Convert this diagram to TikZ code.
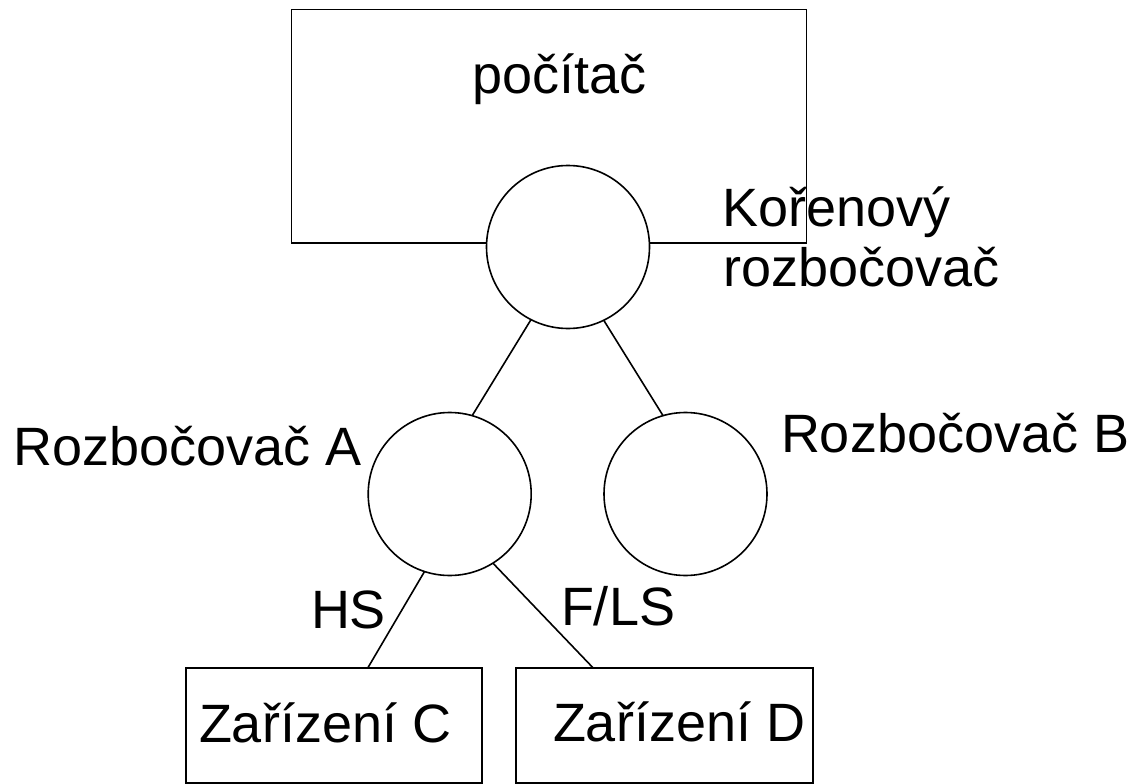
\documentclass[tikz,border=0pt]{standalone}
\usepackage{fontspec}
\setmainfont{Liberation Sans}
\usetikzlibrary{calc}
\begin{document}
\begin{tikzpicture}[x=1pt,y=-1pt,
  lw/.style={line width=1.6pt},
  boxnode/.style={draw,lw,inner sep=0pt,outer sep=0pt,rectangle},
  hub/.style={draw,lw,fill=white,circle,inner sep=0pt,outer sep=0pt,minimum size=163pt},
  lbl/.style={anchor=base west,inner sep=0pt,outer sep=0pt,font=\fontsize{54}{60}\selectfont},
  link/.style={lw}]
\useasboundingbox (0,0) rectangle (1133,784);
% boxes
\node[boxnode,minimum width=515pt,minimum height=233.4pt] (pc) at (548.9,126.3) {};
\node[boxnode,minimum width=296pt,minimum height=115pt] (C) at (334,725.5) {};
\node[boxnode,minimum width=297pt,minimum height=115pt] (D) at (664.5,725.5) {};
% hubs
\node[hub] (root) at (568,247) {};
\node[hub] (A) at (449.7,494) {};
\node[hub] (B) at (685.5,494) {};
% connectors
\draw[link] (root.243.6) -- (A.74);
\draw[link] (root.296.3) -- (B.106);
\draw[link] (A.252.4) -- ($(C.north west)!0.614!(C.north east)$);
\draw[link] (A.302.5) -- ($(D.north west)!0.26!(D.north east)$);
% labels
\node[lbl] (pctext) at (472,94) {počítač};
\node[lbl] (kor1) at (722.5,226.7) {Kořenový};
\node[lbl] (kor2) at (723.5,286) {rozbočovač};
\node[lbl] (ra) at (13.6,465.7) {Rozbočovač A};
\node[lbl] (rb) at (781,452) {Rozbočovač B};
\node[lbl] (hs) at (311,628) {HS};
\node[lbl] (fls) at (561,625) {F/LS};
\node[lbl] (ct) at (199,742.7) {Zařízení C};
\node[lbl] (dt) at (553,741.7) {Zařízení D};
\end{tikzpicture}
\end{document}
